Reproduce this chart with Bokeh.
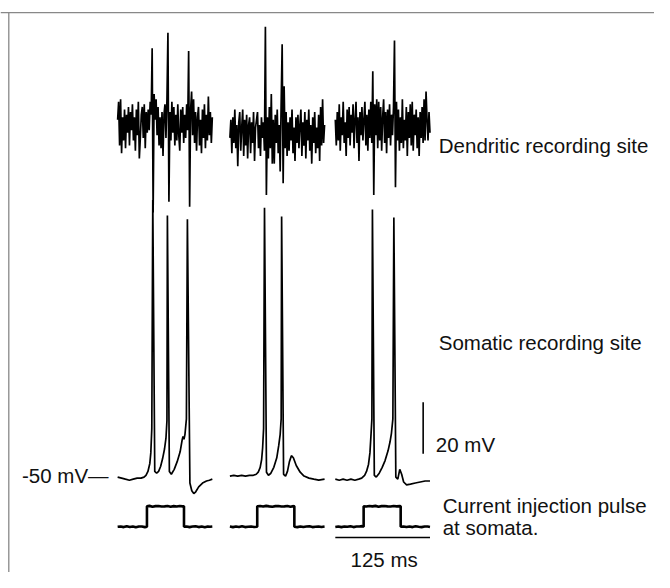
from bokeh.plotting import figure
from bokeh.models import Range1d, Label, Span
from bokeh.embed import file_html
from bokeh.resources import INLINE

# ------------------------------------------------------------------ data
SWEEP_MS = 125.0
DEND_DT_MS = 125.0 / 96.0

# dendritic recording, deviation from rest (mV), one sample per DEND_DT_MS
dend_sweep1_mV = [2, 9, -8, 10, -11, 3, -6, 6, -9, 4, -3, 7, -8, 5, -2, 8, -6, 3, -10, 6,
                  -4, 9, -13, -5, 4, 7, -5, 8, -9, 5, -3, 6, -2, 9, 4, 29.8, -34.0, 12, 2, 10,
                  -4, 7, -8, 3, -9, 5, -12, 4, 8, -5, 10, 35.8, -29.8, 5, -6, 9, -3, 7, -8, 4,
                  -6, 8, -4, -10, 6, -3, 7, -7, 4, -5, 8, -2, 28.7, -31.7, 6, 13, -4, 10, -7, 5,
                  -10, 3, 7, -8, 2, -11, 6, -5, 8, -9, 4, -6, 11, -4, 5, -7, 3]
dend_sweep2_mV = [-5, 2, -11, 3, -7, 6, -9, 0, -16, 1, 5, -10, -1, 6, -12, 2, -8, 4, -13, 0,
                  3, -11, 1, -7, 5, -14, -1, 2, 5, -9, 0, -12, 3, -5, 1, -10, 38.1, -27.2, 3, -13,
                  7, -9, 12, -15, 2, -15, 4, -7, 6, -11, 0, -18, 9, 31.3, -22.6, 15, -9, 5, -12, 1,
                  -10, 3, -6, 6, -11, -1, -14, 3, -7, 4, -9, 0, 6, -12, 1, -8, 5, -13, 2, -6,
                  6, -10, 0, -15, 3, -7, 5, -11, -1, -9, 4, -14, 7, -8, 10, -7, 0]
dend_sweep3_mV = [2, -8, 5, -6, 8, -10, 3, -4, 9, -7, 1, -12, 6, -5, 7, -8, 4, -3, 8, -9,
                  2, 9, -7, 3, -14, 5, -4, 7, -6, 2, 9, -8, 4, -10, 6, -5, 9, -7, 20.8, -27.2,
                  8, -4, 10, -9, 9, -6, 7, -10, 3, 10, -7, 5, -11, 6, -5, 8, -8, 4, -4, 7,
                  32.8, -24.2, 9, -6, 6, -10, 3, -7, 10, -9, 2, -6, 7, -12, 5, -5, 8, -8, 9, -10,
                  4, -4, 6, -9, 3, -12, 5, -5, 7, -7, 10, -6, 13, 2, -6, 5, -3]

# somatic recording (ms, mV)
soma_sweep1_t = [0, 5.2, 10.3, 15.5, 20.6, 25.8, 30.9, 34.8, 37.4, 40.0, 42.5, 43.8, 45.1, 46.4,
                 49.0, 51.5, 54.1, 56.7, 59.3, 61.9, 63.8, 65.1, 65.7, 68.3, 70.9, 74.7, 78.6,
                 82.5, 85.1, 86.3, 87.6, 88.9, 90.8, 92.1, 95.4, 97.9, 100.5, 103.1, 107.0,
                 112.1, 117.3, 121.1, 125.0]
soma_sweep1_mV = [-49.6, -50.0, -50.4, -50.8, -50.4, -50.0, -50.0, -49.6, -48.9, -47.4, -44.3,
                  -40.2, -30.8, 57.9, -47.4, -48.1, -47.4, -45.5, -42.5, -38.7, -34.5, -27.7,
                  51.9, -47.4, -48.5, -46.6, -43.6, -39.8, -35.3, -33.8, -34.9, -33.0, -27.0,
                  50.4, -51.9, -54.9, -56.0, -55.3, -53.4, -51.9, -51.1, -50.8, -50.4]
soma_sweep2_t = [0, 5.2, 10.3, 15.5, 20.6, 25.8, 30.9, 34.8, 37.4, 40.0, 41.9, 43.2, 44.5, 45.7,
                 48.3, 50.9, 54.1, 58.0, 61.9, 64.4, 66.4, 67.7, 68.3, 70.9, 73.5, 76.0, 78.6,
                 81.2, 83.8, 87.6, 92.8, 97.9, 104.4, 110.8, 117.3, 125.0]
soma_sweep2_mV = [-49.2, -48.9, -49.2, -48.9, -49.2, -48.9, -48.9, -48.5, -47.7, -45.8, -42.8,
                  -38.3, -30.8, 54.9, -47.7, -48.9, -48.1, -45.8, -42.1, -37.5, -33.0, -27.0,
                  51.5, -48.5, -49.2, -47.4, -43.6, -41.3, -42.1, -45.1, -47.7, -49.2, -50.0,
                  -50.4, -50.8, -50.4]
soma_sweep3_t = [0, 5.2, 10.3, 15.5, 20.6, 25.8, 30.9, 34.8, 38.7, 41.2, 43.8, 45.7, 47.0, 48.3,
                 49.0, 51.5, 54.1, 58.0, 61.9, 65.7, 69.6, 72.2, 74.1, 76.0, 77.3, 79.9, 82.5,
                 85.1, 87.6, 90.2, 94.1, 99.2, 105.7, 112.1, 118.6, 125.0]
soma_sweep3_mV = [-50.4, -50.8, -50.4, -50.8, -50.4, -50.8, -50.4, -50.0, -48.9, -47.4, -44.7,
                  -40.2, -33.8, -27.0, 54.2, -48.9, -49.6, -48.1, -45.8, -43.2, -39.4, -36.0,
                  -32.6, -27.0, 51.1, -49.6, -50.4, -46.6, -48.5, -51.5, -52.6, -52.3, -51.9,
                  -51.5, -51.1, -51.1]

# injected current (ms, nA)
inj_sweep1_t = [0, 4, 8, 12, 16, 20, 24, 28, 32, 36, 38.7, 38.7, 42, 46, 50, 54, 58, 62, 66, 70,
                74, 78, 82, 86, 87.6, 87.6, 91, 95, 99, 103, 107, 111, 115, 119, 122, 125]
inj_sweep1_nA = [0.0, 0.005, -0.005, 0.007, -0.003, 0.005, -0.007, 0.003, 0.005, -0.005, 0.0, 0.30,
                 0.307, 0.295, 0.303, 0.305, 0.297, 0.30, 0.305, 0.295, 0.303, 0.297, 0.305, 0.30,
                 0.30, 0.0, 0.005, -0.005, 0.003, 0.007, -0.005, 0.003, -0.007, 0.005, 0.0, 0.003]
inj_sweep2_t = [0, 4, 8, 12, 16, 20, 24, 28, 32, 36.1, 36.1, 40, 44, 48, 52, 56, 60, 64, 68, 72,
                76, 80, 84, 85.1, 85.1, 89, 93, 97, 101, 105, 109, 113, 117, 121, 125]
inj_sweep2_nA = [0.003, -0.005, 0.005, -0.003, 0.007, -0.005, 0.0, 0.005, -0.003, 0.0, 0.30, 0.305,
                 0.297, 0.307, 0.30, 0.295, 0.303, 0.305, 0.297, 0.30, 0.305, 0.295, 0.303, 0.30,
                 0.0, -0.005, 0.005, -0.003, 0.003, 0.007, -0.005, 0.0, 0.005, -0.003, 0.003]
inj_sweep3_t = [0, 4, 8, 12, 16, 20, 24, 28, 32, 35, 37.4, 37.4, 41, 45, 49, 53, 57, 61, 65, 69,
                73, 77, 81, 85, 86.3, 86.3, 90, 94, 98, 102, 106, 110, 114, 118, 122, 125]
inj_sweep3_nA = [-0.003, 0.005, -0.005, 0.003, 0.0, 0.007, -0.005, 0.003, 0.005, 0.01, 0.0, 0.30,
                 0.297, 0.305, 0.30, 0.307, 0.295, 0.303, 0.305, 0.30, 0.297, 0.305, 0.30, 0.303,
                 0.30, 0.0, 0.005, -0.003, 0.003, -0.005, 0.007, 0.0, -0.005, 0.005, 0.003, -0.003]

scale_bar_mV = 20
scale_bar_ms = 125
rest_label = "-50 mV\u2014"
label_dend = "Dendritic recording site"
label_soma = "Somatic recording site"
label_inj1 = "Current injection pulse"
label_inj2 = "at somata."

# ------------------------------------------------------------------ layout
# The figure shows the 670 x 588 panel of the original, scaled to fit the page.
W, H = 654, 572
REF_W, REF_H = 670.0, 588.0
PX_PER_MS = 97.0 / 125.0      # in panel pixels
PX_PER_MV = 53.0 / 20.0
PX_PER_NA = 21.0 / 0.3
SWEEP_OFFSETS = [0.0, 115.0 / PX_PER_MS, 223.0 / PX_PER_MS]
DEND_SHIFT = 87.0

def X(px):
    return (px - 120.0) / PX_PER_MS

def Y(py):
    return -50.0 + (491.0 - py) / PX_PER_MV

def I(py):
    return (541.0 - py) / PX_PER_NA

p = figure(width=W, height=H, output_backend="svg", toolbar_location=None,
           x_range=Range1d(X(0), X(REF_W)),
           y_range=Range1d(Y(REF_H), Y(0)),
           min_border=0, outline_line_color=None)
p.extra_y_ranges = {"inj": Range1d(I(REF_H), I(0))}
p.xaxis.visible = False
p.yaxis.visible = False
p.grid.visible = False
p.background_fill_color = "white"
p.border_fill_color = "white"

# frame border (left and top edges of the original panel)
p.line([X(8.5), X(8.5)], [Y(12.5), Y(600)], line_color="#888888", line_width=1.3)
p.add_layout(Span(location=Y(12.5), dimension="width", line_color="#888888", line_width=1.3))

dend = [dend_sweep1_mV, dend_sweep2_mV, dend_sweep3_mV]
soma = [(soma_sweep1_t, soma_sweep1_mV), (soma_sweep2_t, soma_sweep2_mV), (soma_sweep3_t, soma_sweep3_mV)]
inj = [(inj_sweep1_t, inj_sweep1_nA), (inj_sweep2_t, inj_sweep2_nA), (inj_sweep3_t, inj_sweep3_nA)]

for k in range(3):
    off = SWEEP_OFFSETS[k]
    d = dend[k]
    p.line([off + i * DEND_DT_MS for i in range(len(d))], [v + DEND_SHIFT for v in d],
           line_color="black", line_width=1.7, line_join="bevel")
    t, v = soma[k]
    p.line([off + ti for ti in t], v, line_color="black", line_width=1.7, line_join="bevel")
    t, c = inj[k]
    p.line([off + ti for ti in t], c, y_range_name="inj", line_color="black", line_width=2.6)

# scale bars
yb = Y(466)
p.line([X(433), X(433)], [yb, yb + scale_bar_mV], line_color="black", line_width=1.6)
p.line([SWEEP_OFFSETS[2], SWEEP_OFFSETS[2] + scale_bar_ms], [Y(552), Y(552)],
       line_color="black", line_width=1.4)

FONT = "Liberation Sans"
FS = "20.5px"
def lab(txt, px, py, align="left"):
    p.add_layout(Label(x=X(px), y=Y(py), text=txt, text_font=FONT, text_font_size=FS,
                       text_color="#111111", text_baseline="middle", text_align=align))

lab(label_dend, 449, 149)
lab(label_soma, 449, 352)
lab(f"{scale_bar_mV} mV", 446, 456)
lab(rest_label, 22, 488)
lab(label_inj1, 453, 519)
lab(label_inj2, 453, 542)
lab(f"{scale_bar_ms} ms", 393, 575, align="center")

open("out.html", "w").write(file_html(p, INLINE))
